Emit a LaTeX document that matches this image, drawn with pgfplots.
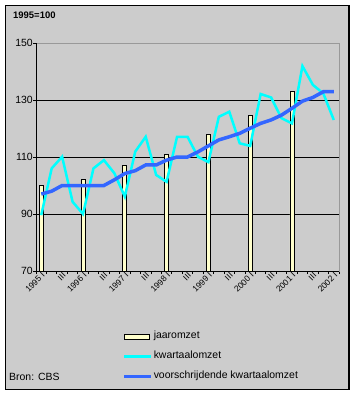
\documentclass[border=0pt]{standalone}
\usepackage{pgfplots}
\pgfplotsset{compat=1.18}
\usepackage{fontspec}
\setmainfont{Liberation Sans}
\definecolor{bg}{HTML}{CCCCCC}
\definecolor{baryel}{HTML}{FFFFCC}
\definecolor{kw}{HTML}{00FFFF}
\definecolor{vk}{HTML}{3366FF}
\definecolor{brd}{HTML}{999999}
\begin{document}
\begin{tikzpicture}[x=1bp,y=1bp]
\useasboundingbox (0,0) rectangle (356,395);
\draw[line width=1.5bp, fill=bg] (5.5,5.5) rectangle (349,389.5);
\node[anchor=west, inner sep=0pt, font=\fontsize{9.5}{11}\selectfont\bfseries] at (13,380) {1995=100};
\node[anchor=west, inner sep=0pt, font=\fontsize{10.5}{12}\selectfont] at (9,18) {Bron: CBS};
\begin{axis}[
  at={(36bp,124bp)}, anchor=south west,
  scale only axis, width=303bp, height=228bp,
  xmin=-0.5, xmax=28.5, ymin=70, ymax=150,
  axis line style={draw=brd, line width=0.8bp},
  xtick pos=left, ytick pos=left,
  tick align=outside,
  major tick length=0pt,
  minor tick length=3bp,
  tick style={black, line width=0.8bp},
  /pgf/number format/assume math mode=true,
  yticklabel style={font=\fontsize{10.5}{12}\selectfont, inner sep=3bp},
  ytick={70,90,110,130,150},
  minor ytick={70,90,110,130,150},
  ymajorgrids=true,
  major grid style={black, line width=0.8bp},
  xtick={0,2,...,28},
  xticklabels={1995 I,III,1996 I,III,1997 I,III,1998 I,III,1999 I,III,2000 I,III,2001 I,III,2002 I},
  xticklabel style={rotate=45, anchor=north east, inner sep=0.5bp, font=\fontsize{8.5}{9}\selectfont},
  minor xtick={-0.5,0.5,...,28.5},
  legend style={at={(0.284,-0.26)}, anchor=north west, draw=none, fill=none, inner sep=0pt,
    font=\fontsize{10.5}{12}\selectfont, row sep=8bp,
    nodes={text height=7.5bp, text depth=2.5bp, inner sep=1bp}},
  legend cell align=left,
]
\addplot[ybar, bar width=4bp, fill=baryel, draw=black, line width=0.8bp,
  legend image code/.code={\draw[fill=baryel, draw=black, line width=0.8bp] (0bp,-2.5bp) rectangle (25bp,2.5bp);}]
  coordinates {(0,100) (4,102) (8,107) (12,111) (16,118) (20,124.5) (24,133)};
\addlegendentry{jaaromzet}
\addplot[kw, line width=2.5bp, mark=none,
  legend image code/.code={\draw[kw, line width=2.5bp] (0bp,0bp) -- (27bp,0bp);}]
  coordinates {(0,89.6) (1,106) (2,110.1) (3,94.3) (4,90) (5,106) (6,108.9) (7,104.3)
  (8,96.1) (9,111.9) (10,117.1) (11,103.7) (12,101.3) (13,117.1) (14,117.1) (15,110.1)
  (16,108.2) (17,124.1) (18,125.9) (19,114.8) (20,113.9) (21,132.1) (22,130.9) (23,123.6)
  (24,121.8) (25,141.9) (26,135.3) (27,132.3) (28,123)};
\addlegendentry{kwartaalomzet}
\addplot[vk, line width=3.5bp, mark=none,
  legend image code/.code={\draw[vk, line width=3.5bp] (0bp,0bp) -- (27bp,0bp);}]
  coordinates {(0,97) (1,98) (2,100) (3,100) (4,100) (5,100) (6,100) (7,102)
  (8,104.2) (9,105.2) (10,107.2) (11,107.2) (12,108.9) (13,110) (14,110) (15,111.8)
  (16,113.9) (17,116) (18,117.1) (19,118.3) (20,120.1) (21,121.8) (22,123) (23,124.7)
  (24,127.1) (25,129.6) (26,130.9) (27,132.9) (28,132.9)};
\addlegendentry{voorschrijdende kwartaalomzet}
\draw[brd, line width=0.8bp] (rel axis cs:0,1) -- (rel axis cs:1,1) -- (rel axis cs:1,0);
\draw[black, line width=0.8bp] (rel axis cs:0,1) -- (rel axis cs:0,0) -- (rel axis cs:1,0);
\end{axis}
\end{tikzpicture}
\end{document}
